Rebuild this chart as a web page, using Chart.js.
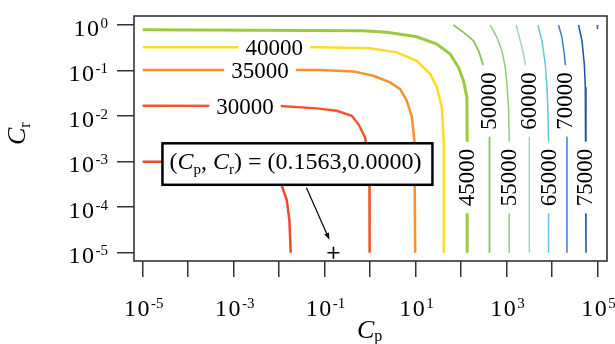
<!DOCTYPE html>
<html>
<head>
<meta charset="utf-8">
<script src="https://cdn.jsdelivr.net/npm/chart.js@4/dist/chart.umd.min.js"></script>
<style>
  body { margin: 0; background: #fff; }
  canvas { display: block; }
</style>
</head>
<body>
<canvas id="myChart" width="615" height="344"></canvas>
<script>
'use strict';

// ******* DATA *******
let levels = [25000, 30000, 35000, 40000, 45000, 50000, 55000, 60000, 65000, 70000, 75000, 80000];

let cp25000 = [1e-5, 2.3e-3, 6.3e-3, 9.5e-3, 1.2e-2, 1.47e-2, 1.68e-2, 1.8e-2];
let cr25000 = [1.0e-3, 1.0e-3, 8.9e-4, 5.1e-4, 2.6e-4, 1.44e-4, 5.2e-5, 1e-5];

let cp30000 = [1e-5, 1.05e-2, 6.7e-2, 0.185, 0.395, 0.553, 0.776, 0.91, 0.966, 0.975];
let cr30000 = [1.69e-2, 1.66e-2, 1.48e-2, 1.31e-2, 1.02e-2, 6.7e-3, 3.4e-3, 1.1e-3, 2.9e-4, 1e-5];

let cp35000 = [1e-5, 7.9e-2, 0.43, 1.18, 2.75, 4.57, 6.4, 8.3, 9.4, 9.8];
let cr35000 = [0.103, 0.103, 9.6e-2, 7.7e-2, 5.5e-2, 3.9e-2, 2.18e-2, 9.4e-3, 2.9e-3, 1e-5];

let cp40000 = [1e-5, 7.9e-2, 1.0, 3.86, 10.6, 20.9, 29.3, 37.8, 41.7, 41.7];
let cr40000 = [0.324, 0.324, 0.308, 0.251, 0.164, 8.4e-2, 4.3e-2, 1.55e-2, 2.4e-3, 1e-5];

let cp45000 = [1e-5, 0.70, 2.33, 10.6, 29.3, 57.5, 87.5, 112.7, 134, 136, 136];
let cr45000 = [0.789, 0.75, 0.69, 0.553, 0.383, 0.231, 0.118, 6.0e-2, 2.58e-2, 2.9e-3, 1e-5];

let cp50000 = [67.9, 112.7, 187, 241, 301, 375, 421, 421];
let cr50000 = [1.0, 0.69, 0.452, 0.273, 0.139, 2.25e-2, 3.5e-3, 1e-5];

let cp55000 = [437, 612, 789, 933, 1016, 1102, 1143, 1143];
let cr55000 = [1.0, 0.537, 0.273, 0.118, 5.1e-2, 1.56e-2, 3.0e-3, 1e-5];

let cp60000 = [1629, 1995, 2355, 2570, 2992, 3162, 3162];
let cr60000 = [1.0, 0.452, 0.231, 0.139, 2.25e-2, 3.5e-3, 1e-5];

let cp65000 = [4887, 5984, 7079, 7709, 8110, 8356, 8356];
let cr65000 = [1.0, 0.452, 0.139, 4.3e-2, 1.31e-2, 3.0e-3, 1e-5];

let cp70000 = [13870, 16480, 18530, 19500, 21230, 21230];
let cr70000 = [1.0, 0.537, 0.231, 0.139, 3.3e-3, 1e-5];

let cp75000 = [38190, 45390, 51050, 53700, 55590, 55590];
let cr75000 = [1.0, 0.452, 0.139, 4.3e-2, 1.31e-2, 1e-5];

let cp80000 = [97720, 100000];
let cr80000 = [1.0, 0.81];

let contourCp = [cp25000, cp30000, cp35000, cp40000, cp45000, cp50000, cp55000, cp60000, cp65000, cp70000, cp75000, cp80000];
let contourCr = [cr25000, cr30000, cr35000, cr40000, cr45000, cr50000, cr55000, cr60000, cr65000, cr70000, cr75000, cr80000];

// picked point shown with the callout
let pickCp = [0.1563];
let pickCr = [1e-5];

// decade exponents that get a tick / a label
let xTickExps = [-5, -4, -3, -2, -1, 0, 1, 2, 3, 4, 5];
let xLabelExps = [-5, -3, -1, 1, 3, 5];
let yTickExps = [-5, -4, -3, -2, -1, 0];

// ******* STYLE *******
let lineColors = ['#ee4b2b', '#f1552c', '#f7902e', '#fddc27', '#9cc93f', '#8bc455', '#90cd79',
  '#9ed7ba', '#60c6e4', '#3a7fcf', '#1d55a6', '#5656a6'];
let lineWidths = [2.5, 2.5, 2.5, 2.5, 3, 1.8, 1.5, 1.5, 1.5, 1.5, 1.5, 1.5];

// where the level numbers sit on their line (data coords)
let labelSpots = [
  { level: 30000, cp: 1.78e-3, cr: 1.69e-2, rotate: false },
  { level: 35000, cp: 3.8e-3, cr: 0.103, rotate: false },
  { level: 40000, cp: 7.8e-3, cr: 0.324, rotate: false },
  { level: 45000, cp: 128, cr: 4.5e-4, rotate: true },
  { level: 50000, cp: 385, cr: 2.16e-2, rotate: true },
  { level: 55000, cp: 1059, cr: 4.5e-4, rotate: true },
  { level: 60000, cp: 2917, cr: 2.16e-2, rotate: true },
  { level: 65000, cp: 8035, cr: 4.5e-4, rotate: true },
  { level: 70000, cp: 18700, cr: 2.16e-2, rotate: true },
  { level: 75000, cp: 51500, cr: 4.5e-4, rotate: true }
];

const SERIF = '"Liberation Serif", "Times New Roman", serif';

// ******* HELPERS *******
function toPoints(xs, ys) {
  let pts = [];
  for (let i = 0; i < xs.length; i++) {
    pts.push({ x: xs[i], y: ys[i] });
  }
  return pts;
}

function powerLabel(ctx, exp, x, y, align) {
  // "10" with a raised exponent, align is 'center' or 'right'
  ctx.font = '24px ' + SERIF;
  ctx.letterSpacing = '1.5px';
  let base = '10';
  let wb = ctx.measureText(base).width;
  ctx.letterSpacing = '0px';
  ctx.font = '15px ' + SERIF;
  let sup = String(exp);
  let ws = ctx.measureText(sup).width;
  let start = align === 'right' ? x - wb - ws : x - (wb + ws) / 2;
  ctx.font = '24px ' + SERIF;
  ctx.letterSpacing = '1.5px';
  ctx.fillText(base, start, y);
  ctx.letterSpacing = '0px';
  ctx.font = '15px ' + SERIF;
  ctx.fillText(sup, start + wb, y - 8);
}

// ******* PLUGIN: contour labels, callout, axes text *******
const decorations = {
  id: 'decorations',
  afterDatasetsDraw(chart) {
    let ctx = chart.ctx;
    let xs = chart.scales.x;
    let ys = chart.scales.y;

    // level numbers on the lines
    ctx.save();
    ctx.font = '23px ' + SERIF;
    ctx.textAlign = 'center';
    ctx.textBaseline = 'alphabetic';
    for (let lab of labelSpots) {
      let px = xs.getPixelForValue(lab.cp);
      let py = ys.getPixelForValue(lab.cr);
      let text = String(lab.level);
      let w = ctx.measureText(text).width;
      ctx.save();
      ctx.translate(px, py);
      if (lab.rotate) {
        ctx.rotate(-Math.PI / 2);
      }
      ctx.fillStyle = '#fff';
      ctx.fillRect(-w / 2 - 7, -9, w + 14, 18);
      ctx.fillStyle = '#000';
      ctx.fillText(text, 0, 7.8);
      ctx.restore();
    }
    ctx.restore();

    // callout box + arrow to the picked point
    let mx = xs.getPixelForValue(pickCp[0]);
    let my = ys.getPixelForValue(pickCr[0]);
    let bx = mx - 171;
    let by = my - 109.5;
    let bw = 270;
    let bh = 41.5;

    ctx.save();
    ctx.fillStyle = '#fff';
    ctx.fillRect(bx, by, bw, bh);
    ctx.strokeStyle = '#000';
    ctx.lineWidth = 2.5;
    ctx.strokeRect(bx, by, bw, bh);

    let tx = bx + 7;
    let base = by + 26;
    ctx.fillStyle = '#000';
    let parts = [
      ['(', '24px ', 0],
      ['C', 'italic 24px ', 0],
      ['p', '15px ', 5],
      [', ', '24px ', 0],
      ['C', 'italic 24px ', 0],
      ['r', '15px ', 5],
      [') = (' + pickCp[0].toFixed(4) + ',' + pickCr[0].toFixed(4) + ')', '24px ', 0]
    ];
    for (let p of parts) {
      ctx.font = p[1] + SERIF;
      ctx.fillText(p[0], tx, base + p[2]);
      tx += ctx.measureText(p[0]).width;
    }

    // arrow
    let ax0 = mx - 27;
    let ay0 = by + bh + 3;
    let ax1 = mx - 4;
    let ay1 = my - 13;
    let ang = Math.atan2(ay1 - ay0, ax1 - ax0);
    ctx.strokeStyle = '#000';
    ctx.lineWidth = 1.2;
    ctx.beginPath();
    ctx.moveTo(ax0, ay0);
    ctx.lineTo(ax1 - 5 * Math.cos(ang), ay1 - 5 * Math.sin(ang));
    ctx.stroke();
    ctx.beginPath();
    ctx.moveTo(ax1, ay1);
    ctx.lineTo(ax1 - 7 * Math.cos(ang) + 2.5 * Math.sin(ang), ay1 - 7 * Math.sin(ang) - 2.5 * Math.cos(ang));
    ctx.lineTo(ax1 - 7 * Math.cos(ang) - 2.5 * Math.sin(ang), ay1 - 7 * Math.sin(ang) + 2.5 * Math.cos(ang));
    ctx.closePath();
    ctx.fill();
    ctx.restore();
  },
  afterDraw(chart) {
    let ctx = chart.ctx;
    let area = chart.chartArea;
    let xs = chart.scales.x;
    let ys = chart.scales.y;
    ctx.save();

    // frame
    ctx.strokeStyle = '#333';
    ctx.lineWidth = 1.6;
    ctx.strokeRect(area.left, area.top, area.right - area.left, area.bottom - area.top);

    // tick labels
    ctx.fillStyle = '#000';
    ctx.textAlign = 'left';
    ctx.textBaseline = 'alphabetic';
    for (let e of yTickExps) {
      let py = ys.getPixelForValue(Math.pow(10, e));
      powerLabel(ctx, e, 108, py + 10.5, 'right');
    }
    for (let e of xLabelExps) {
      let px = xs.getPixelForValue(Math.pow(10, e));
      powerLabel(ctx, e, px + 1, 316, 'center');
    }

    // axis titles
    ctx.font = 'italic 26px ' + SERIF;
    ctx.fillText('C', 357, 337.5);
    let wc = ctx.measureText('C').width;
    ctx.font = '16px ' + SERIF;
    ctx.fillText('p', 357 + wc, 341);

    ctx.translate(25, 145);
    ctx.rotate(-Math.PI / 2);
    ctx.font = 'italic 26px ' + SERIF;
    ctx.fillText('C', 0, 0);
    wc = ctx.measureText('C').width;
    ctx.font = '16px ' + SERIF;
    ctx.fillText('r', wc, 5);
    ctx.restore();
  }
};

// ******* CHART *******
let datasets = [];
for (let i = 0; i < levels.length; i++) {
  datasets.push({
    label: String(levels[i]),
    data: toPoints(contourCp[i], contourCr[i]),
    showLine: true,
    borderColor: lineColors[i],
    borderWidth: lineWidths[i],
    pointRadius: 0,
    tension: 0,
    fill: false
  });
}
datasets.push({
  label: 'pick',
  data: toPoints(pickCp, pickCr),
  showLine: false,
  pointStyle: 'cross',
  pointRadius: 6,
  borderColor: '#000',
  borderWidth: 1.6
});

function decadeTicks(exps) {
  return function (scale) {
    scale.ticks = exps.map(e => ({ value: Math.pow(10, e) }));
  };
}

let canvasChart = document.getElementById('myChart');
const myChart = new Chart(canvasChart, {
  type: 'scatter',
  data: { datasets: datasets },
  options: {
    responsive: false,
    animation: false,
    devicePixelRatio: 1,
    layout: { padding: { top: 16, right: 8, left: 0, bottom: 0 } },
    plugins: {
      legend: { display: false },
      tooltip: { enabled: false }
    },
    scales: {
      x: {
        type: 'logarithmic',
        position: 'bottom',
        min: Math.pow(10, -5.19),
        max: Math.pow(10, 5.207),
        afterBuildTicks: decadeTicks(xTickExps),
        afterFit: function (scale) { scale.height = 83; },
        ticks: { display: false },
        border: { display: false },
        grid: { drawOnChartArea: false, drawTicks: true, tickLength: 16, color: '#333', lineWidth: 1.5 }
      },
      y: {
        type: 'logarithmic',
        position: 'left',
        min: Math.pow(10, -5.18),
        max: Math.pow(10, 0.198),
        afterBuildTicks: decadeTicks(yTickExps),
        afterFit: function (scale) { scale.width = 134; },
        ticks: { display: false },
        border: { display: false },
        grid: { drawOnChartArea: false, drawTicks: true, tickLength: 17, color: '#333', lineWidth: 1.5 }
      }
    }
  },
  plugins: [decorations]
});
</script>
</body>
</html>
